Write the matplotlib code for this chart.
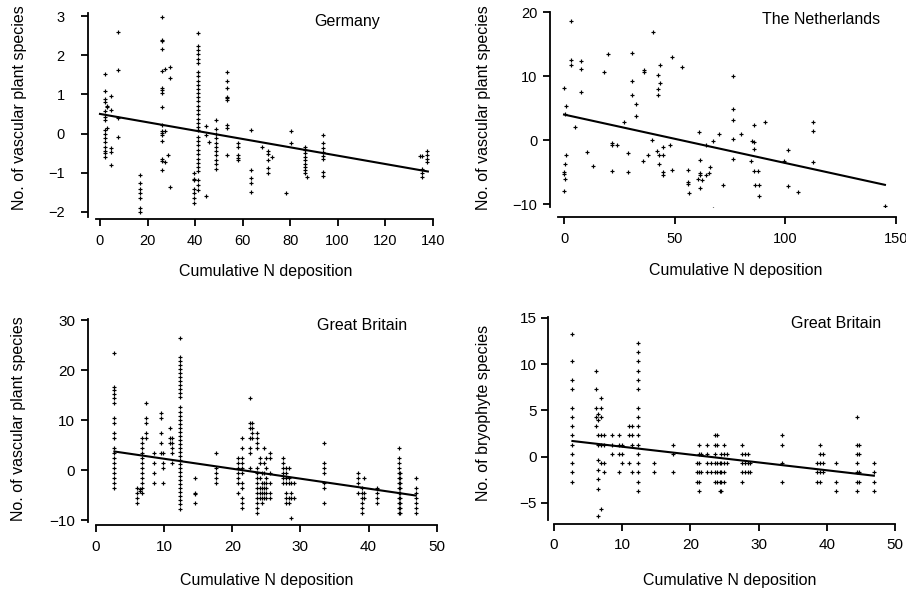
import matplotlib
matplotlib.use("Agg")
import matplotlib.pyplot as plt
import numpy as np

plt.rcParams['font.family'] = ['Liberation Sans', 'DejaVu Sans']

W, H = 906, 589

# ---------------- Germany (vascular) ----------------
ger_col_x = [2.1, 3.1, 4.6, 7.4, 16.8, 26.1, 27.4, 28.8, 29.6, 39.6, 41.1, 44.6, 45.7,
             48.8, 53.3, 57.9, 63.4, 68.3, 70.8, 72.5, 78.1, 80.4, 86.3, 87.3, 93.7,
             134.5, 135.7, 137.8]
ger_col_y = [
    [1.52, 1.08, 0.87, 0.8, 0.58, 0.42, 0.35, 0.1, 0.0, -0.11, -0.21, -0.34, -0.44, -0.49, -0.61],
    [0.7, 0.67, 0.13],
    [0.96, 0.6, -0.38, -0.48, -0.81],
    [2.58, 1.61, 0.4, -0.1],
    [-1.05, -1.26, -1.42, -1.52, -1.64, -1.89, -2.0],
    [2.98, 2.4, 2.36, 2.15, 1.59, 1.15, 1.1, 1.04, 0.68, 0.21, 0.07, 0.02, -0.04, -0.19, -0.66, -0.7, -0.92],
    [1.66, 0.07, -0.72],
    [-0.55],
    [1.69, 1.41, -1.36],
    [-1.0, -1.16, -1.2, -1.42, -1.51, -1.64, -1.77],
    [2.56, 2.24, 2.13, 2.02, 1.91, 1.8, 1.58, 1.47, 1.35, 1.24, 1.14, 1.04, 0.92, 0.82, 0.71,
     0.6, 0.49, 0.38, 0.27, 0.16, 0.09, -0.08, -0.19, -0.3, -0.42, -0.53, -0.64, -0.75, -0.85,
     -0.96, -1.19, -1.32, -1.45],
    [0.19, -0.05, -1.59],
    [-0.21],
    [0.34, 0.12, 0.0, -0.12, -0.23, -0.34, -0.44, -0.56, -0.67, -0.78, -0.9],
    [1.57, 1.34, 1.17, 0.94, 0.9, 0.85, 0.23, 0.13, -0.55],
    [-0.23, -0.34, -0.56, -0.62, -0.68],
    [0.09, -0.92, -1.13, -1.26, -1.49],
    [-0.34],
    [-0.45, -0.53, -0.68, -0.89, -1.02],
    [-0.6],
    [-1.51],
    [0.07, -0.23],
    [-0.34, -0.42, -0.51, -0.6, -0.68, -0.77, -0.85, -0.94, -1.02],
    [-1.1],
    [-0.03, -0.25, -0.37, -0.47, -0.57, -0.65, -0.99, -1.08],
    [-0.57],
    [-0.57, -0.91, -1.02, -1.12],
    [-0.44, -0.55, -0.64, -0.72],
]
ger_fit_x = [0, 138]
ger_fit_y = [0.5, -0.97]

# ---------------- The Netherlands (vascular) ----------------
nl_x = [0, 0.75, 0.5, 0.75, 0.5, 0.15, 0, 0.5, 0, 3, 3, 3, 7.5, 7.5, 7.5, 5.1, 10.2, 13.3,
        18, 20, 21.5, 21.8, 23.8, 21.5, 27, 29, 29, 30.9, 30.9, 30.9, 32.4, 32.4, 36, 36.2,
        35.5, 38, 39.6, 40, 41.9, 42.6, 42.6, 42.6, 43, 43, 43.4, 43.4, 44.9, 44.9, 44.9,
        44.9, 47.9, 49, 49, 53.2, 56.2, 56.2, 56, 56.5, 61.1, 61.4, 61.4, 61.4, 60.7, 61.4,
        62.5, 64, 64.2, 66, 65.7, 67.5, 67.5, 70.2, 71.7, 76.5, 76.5, 76.5, 76.5, 76.5,
        79.8, 84.5, 84.8, 85.8, 85.8, 86, 85.8, 87.7, 86.3, 88.3, 88.3, 90.8, 99.4, 101.4,
        101.4, 105.6, 112.7, 112.7, 112.7, 145]
nl_y = [8.2, 5.3, 4.1, -2.3, -3.7, -5.0, -5.3, -6.1, -8.0, 18.6, 12.6, 11.7, 12.4, 11.1,
        7.6, 2.1, -1.9, -4.0, 10.7, 13.4, -0.4, -0.7, -0.7, -4.8, 2.9, -2.0, -5.0, 13.7,
        9.2, 7.0, 5.7, 3.7, 10.9, 10.7, -3.3, -2.4, 0.0, 16.9, -1.7, 10.2, 8.0, 7.0, -2.3,
        -3.8, 11.7, 9.0, -1.0, -2.3, -5.0, -5.4, -0.8, 13.0, -4.7, 11.4, -4.6, -6.9, -6.6,
        -8.3, 1.3, -3.1, -5.1, -5.5, -6.1, -7.5, -6.3, -5.5, -0.8, -4.2, -5.1, -0.1, -10.8,
        0.9, -7.0, 10.0, 4.8, 3.1, 0.2, -2.9, 1.0, -3.3, -0.2, -0.3, 2.3, -1.4, -4.9, -4.9,
        -7.0, -7.1, -8.8, 2.9, -3.2, -1.5, -7.2, -8.1, 2.9, 1.4, -3.5, -10.3]
nl_fit_x = [0, 145]
nl_fit_y = [4.0, -7.0]

# ---------------- Great Britain (vascular) ----------------
gbv_col_x = [2.7, 6.0, 6.5, 6.8, 7.3, 8.5, 9.5, 9.9, 10.8, 11.2, 12.3, 14.6, 17.6, 20.9,
             21.4, 22.6, 22.9, 23.6, 24.0, 24.3, 24.7, 25.0, 25.5, 27.4, 27.9, 28.3, 28.6,
             29.0, 33.5, 38.5, 39.0, 39.3, 41.3, 44.4, 44.6, 46.9]
gbv_col_y = [
    [23.5, 16.7, 16.0, 15.3, 14.5, 13.5, 10.5, 9.5, 7.5, 6.5, 4.5, 3.5, 2.5, 1.5, 0.5,
     -0.5, -1.5, -2.5, -3.5],
    [-3.5, -4.5, -5.5, -6.5],
    [-3.8, -4.2],
    [6.5, 5.5, 4.5, 3.5, 2.5, 1.5, 0.5, -0.5, -1.5, -2.5, -3.5, -4.5],
    [13.5, 10.5, 9.5, 7.5, 6.5],
    [3.5, 1.5, -0.5, -2.5],
    [11.5, 10.5, 7.5, 5.5, 3.5],
    [3.5, 1.5, 0.5, -2.5],
    [8.5, 6.5, 5.5],
    [6.5, 5.5, 4.5, 3.5, 1.5],
    [26.5, 22.7, 21.9, 21.1, 20.3, 19.5, 18.7, 17.9, 17.1, 16.3, 15.5, 14.7, 12.7, 11.7,
     10.9, 10.1, 9.3, 8.5, 7.7, 6.9, 6.1, 5.3, 4.5, 3.7, 2.9, 2.1, 1.3, 0.5, -0.3, -1.1,
     -1.9, -2.7, -3.5, -4.3, -5.1, -5.9, -6.7, -7.7],
    [-1.5, -4.5, -4.7, -6.5],
    [3.5, 0.5, -0.5, -1.5, -2.5],
    [2.5, 1.5, 0.5, -0.5, -1.5, -2.5, -4.5],
    [6.5, 4.5, 2.5, 1.5, 0.5, -0.5, -2.5, -3.5, -5.5, -6.5, -7.5],
    [14.5, 9.5, 8.5, 6.5, 4.5, 3.5, 0.5],
    [9.5, 8.5, 7.5, 6.5],
    [7.5, 6.5, 5.5, 4.5, 0.5, -0.5, -1.5, -2.5, -3.5, -4.5, -5.5, -6.5, -7.5, -8.5],
    [2.5, 1.5, -1.5, -3.5, -4.5, -5.5],
    [-0.5, -2.5, -3.5, -4.5, -5.5, -6.5],
    [4.5, 1.5, -0.5, -2.5, -3.5, -4.5, -5.5],
    [2.5, 0.5, -1.5, -2.5, -3.5, -4.5, -5.5],
    [3.5, 2.5, -0.5, -2.5, -4.5, -5.5],
    [2.5, 1.5, 0.5, -0.5, -1.5, -2.5],
    [0.5, -0.5, -1.5, -2.5, -4.5, -5.5, -6.5],
    [0.5, -1.5, -2.5, -5.5, -6.5],
    [-2.5, -4.5, -5.5, -9.5],
    [-2.5, -5.5],
    [5.5, 1.5, 0.5, -0.5, -2.5, -3.5, -6.5],
    [-0.5, -1.5, -2.5, -4.5],
    [-3.5, -4.5, -5.5, -6.5, -7.5, -8.5],
    [-1.5, -4.5, -5.5],
    [-3.5, -4.5, -5.5, -6.5],
    [4.5, 2.5, 1.5, 0.5, -0.5, -1.5, -2.5, -3.5, -4.5, -5.5, -6.5, -7.5, -8.5],
    [-0.5, -1.5, -2.5, -3.5, -4.5, -5.5, -6.5, -7.5, -8.5],
    [-1.5, -3.5, -4.5, -5.5, -6.5, -7.5, -8.5],
]
gbv_fit_x = [2.7, 46.9]
gbv_fit_y = [3.7, -5.1]

# ---------------- Great Britain (bryophytes) ----------------
gbb_col_x = [2.7, 6.1, 6.5, 6.9, 7.4, 8.5, 9.5, 10.0, 11.0, 11.4, 12.3, 14.6, 17.5, 20.9,
             21.3, 21.5, 22.5, 23.0, 23.6, 23.9, 24.3, 24.5, 24.9, 25.3, 27.6, 28.0, 28.4,
             28.8, 33.5, 38.6, 39.0, 39.4, 41.3, 44.4, 44.7, 46.9]
gbb_col_y = [
    [13.3, 10.3, 8.3, 7.3, 5.3, 4.3, 3.3, 2.3, 1.3, 0.3, -0.7, -1.7, -2.7],
    [9.3, 7.3, 5.3, 4.3, 3.3],
    [4.6, 4.0, 2.3, 1.3, -0.4, -1.4, -2.4, -3.5, -6.4],
    [6.3, 5.3, 4.3, 2.3, 1.3, -0.7, -5.7],
    [2.3, 1.3, -0.7, -1.7],
    [2.3, 1.3, 0.3],
    [2.3, 1.3, 0.3, -1.7],
    [1.3, 0.3, -0.7],
    [3.3, 2.3, -0.7],
    [3.3, 2.3, 1.3, -1.7],
    [12.3, 11.3, 10.3, 9.3, 8.3, 7.3, 5.3, 4.3, 3.3, 2.3, 1.3, 0.3, -0.7, -1.7, -2.7, -3.7],
    [-0.7, -1.7],
    [1.3, 0.3, -1.7],
    [-0.7, -1.7, -2.7],
    [1.3, 0.3, -0.7, -1.7, -2.7, -3.7],
    [0.3, -1.7],
    [1.3, 0.3, -0.7, -1.7],
    [-0.7, -1.7],
    [2.3, 1.3, 0.3, -0.7, -1.7, -2.7],
    [2.3, 1.3, -0.7, -1.7, -2.7],
    [-0.7, -1.7, -2.7, -3.7],
    [0.3, -0.7, -1.7, -2.7, -3.7],
    [1.3, 0.3, -0.7, -1.7, -2.7],
    [0.3, -0.7],
    [1.3, 0.3, -0.7, -1.7, -2.7],
    [0.3, -0.7, -1.7],
    [0.3, -0.7, -1.7],
    [-0.7, -1.7],
    [2.3, 1.3, -0.7, -2.7],
    [-0.7, -1.7, -2.7],
    [1.3, 0.3, -0.7, -1.7, -2.7],
    [0.3, -0.7, -1.7],
    [-0.7, -2.7, -3.7],
    [4.3, 1.3, 0.3, -0.7, -1.7, -2.7, -3.7],
    [1.3, 0.3, -1.7, -2.7],
    [-0.7, -1.7, -2.7, -3.7],
]
gbb_fit_x = [2.7, 46.9]
gbb_fit_y = [1.7, -2.05]

x_label = "Cumulative N deposition"


def flatten(cx, cy):
    xs, ys = [], []
    for x, col in zip(cx, cy):
        xs.extend([x] * len(col))
        ys.extend(col)
    return np.array(xs), np.array(ys)


fig = plt.figure(figsize=(W / 100, H / 100), dpi=100)


def px2pt(p):
    return p * 72 / 100


def make_axes(left, right, top, bottom, xlim, ylim, xticks, yticks,
              yoff, xoff, ylab, title, title_xy, xlab_xy, ylab_xy, ypad=5, fs=10.5):
    ax = fig.add_axes([left / W, 1 - bottom / H, (right - left) / W, (bottom - top) / H])
    ax.set_xlim(*xlim)
    ax.set_ylim(*ylim)
    for s in ['top', 'right']:
        ax.spines[s].set_visible(False)
    ax.spines['left'].set_position(('outward', px2pt(yoff)))
    ax.spines['bottom'].set_position(('outward', px2pt(xoff)))
    for s in ['left', 'bottom']:
        ax.spines[s].set_linewidth(1.3)
    ax.set_xticks(xticks)
    ax.set_yticks(yticks)
    ax.tick_params(direction='out', length=5, width=1.3, labelsize=fs)
    ax.tick_params(axis='x', pad=5.5)
    ax.tick_params(axis='y', pad=ypad)
    ax.patch.set_visible(False)
    fig.text(xlab_xy[0] / W, 1 - xlab_xy[1] / H, x_label, ha='center', va='center', fontsize=11.5)
    fig.text(ylab_xy[0] / W, 1 - ylab_xy[1] / H, ylab, ha='center', va='center',
             rotation=90, fontsize=11.5)
    fig.text(title_xy[0] / W, 1 - title_xy[1] / H, title, ha='center', va='center', fontsize=11.5)
    return ax


mk = dict(marker='+', ms=2.5, mew=0.85, color='black', linestyle='none')
lw_fit = 1.5

# Germany
ax1 = make_axes(96, 433, 13.3, 217.3, (-1.68, 140.15), (-2.14, 3.07),
                [0, 20, 40, 60, 80, 100, 120, 140], [-2, -1, 0, 1, 2, 3],
                7.7, 2.0, "No. of vascular plant species", "Germany",
                (347.5, 21.7), (266, 272), (19.3, 108), ypad=12)
x, y = flatten(ger_col_x, ger_col_y)
ax1.plot(x, y, **mk)
ax1.plot(ger_fit_x, ger_fit_y, color='black', lw=lw_fit)

# Netherlands
ax2 = make_axes(558.3, 896, 12.3, 206.7, (-2.6, 150), (-10.42, 20),
                [0, 50, 100, 150], [-10, 0, 10, 20],
                8.3, 10.6, "No. of vascular plant species", "The Netherlands",
                (821.5, 20), (736, 270.7), (483.3, 108), ypad=4)
ax2.plot(nl_x, nl_y, **mk)
ax2.plot(nl_fit_x, nl_fit_y, color='black', lw=lw_fit)

# GB vascular
ax3 = make_axes(96, 436.7, 319.3, 521.7, (0, 50), (-10.34, 30.14),
                [0, 10, 20, 30, 40, 50], [-10, 0, 10, 20, 30],
                7.7, 3.3, "No. of vascular plant species", "Great Britain",
                (362, 325.7), (266.7, 580), (18.3, 418.3), ypad=4.5, fs=11)
x, y = flatten(gbv_col_x, gbv_col_y)
ax3.plot(x, y, **mk)
ax3.plot(gbv_fit_x, gbv_fit_y, color='black', lw=lw_fit)

# GB bryophytes
ax4 = make_axes(554, 895, 316.7, 520, (0, 50), (-6.84, 15.14),
                [0, 10, 20, 30, 40, 50], [-5, 0, 5, 10, 15],
                6.3, 3.7, "No. of bryophyte species", "Great Britain",
                (836, 323.3), (730, 580), (483.3, 412.8), ypad=3, fs=11)
x, y = flatten(gbb_col_x, gbb_col_y)
ax4.plot(x, y, **mk)
ax4.plot(gbb_fit_x, gbb_fit_y, color='black', lw=lw_fit)

fig.savefig("out.png", dpi=100)
